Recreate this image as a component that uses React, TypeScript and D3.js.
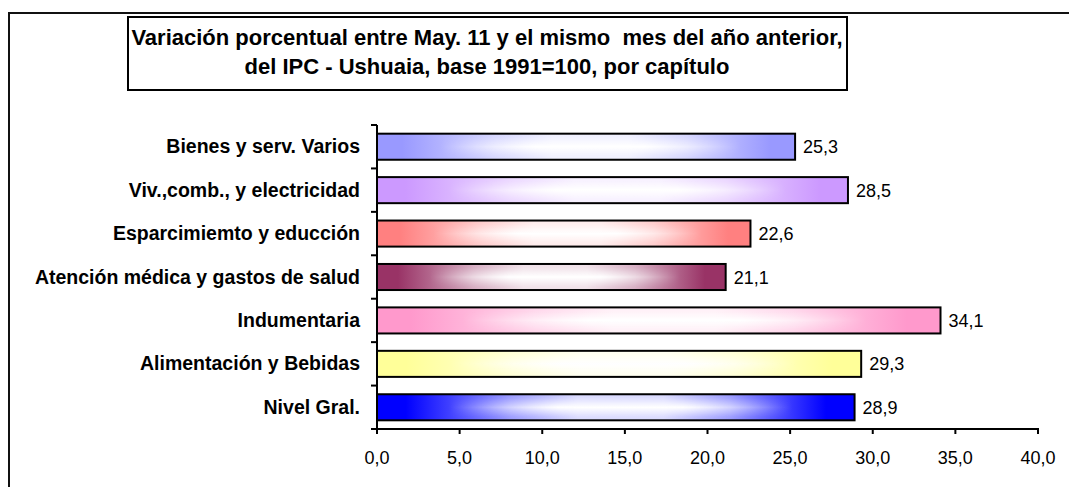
import React from "react";
import * as d3 from "d3";

const categories: string[] = [
  "Bienes y serv. Varios",
  "Viv.,comb., y electricidad",
  "Esparcimiemto y educción",
  "Atención médica y gastos de salud",
  "Indumentaria",
  "Alimentación y Bebidas",
  "Nivel Gral.",
];
const values: number[] = [25.3, 28.5, 22.6, 21.1, 34.1, 29.3, 28.9];
const barColors: string[] = ["#9999FF", "#CC99FF", "#FF8080", "#993366", "#FF99CC", "#FFFF99", "#0000FF"];
const xTicks: number[] = [0, 5, 10, 15, 20, 25, 30, 35, 40];
const titleLines: string[] = [
  "Variación porcentual entre May. 11 y el mismo  mes del año anterior,",
  "del IPC - Ushuaia, base 1991=100, por capítulo",
];

const W = 1069;
const H = 487;
const FONT = "'Liberation Sans', Arial, Helvetica, sans-serif";

const fmt = (v: number) => d3.format(".1f")(v).replace(".", ",");

export default function App() {
  const x = d3.scaleLinear().domain([0, 40]).range([377, 1038]);
  const y = d3
    .scaleBand<string>()
    .domain(categories)
    .range([125, 429])
    .paddingInner(0.4)
    .paddingOuter(0.2);
  const step = y.step();
  const bw = y.bandwidth();
  const [yTop, yBottom] = y.range();
  const x0 = x(0);

  const mix = (c: string, t: number) => d3.interpolateRgb(c, "#ffffff")(t);

  return (
    <div style={{ position: "absolute", left: 0, top: 0 }}>
      <svg width={W} height={H} style={{ display: "block", background: "#fff" }}>
        <defs>
          <linearGradient id="hmask" x1="0" y1="0" x2="1" y2="0">
            <stop offset="0" stopColor="#000" />
            <stop offset="0.15" stopColor="#000" />
            <stop offset="0.38" stopColor="#fff" />
            <stop offset="0.64" stopColor="#fff" />
            <stop offset="0.87" stopColor="#000" />
            <stop offset="1" stopColor="#000" />
          </linearGradient>
          <mask id="barMask" maskContentUnits="objectBoundingBox">
            <rect x={0} y={0} width={1} height={1} fill="url(#hmask)" />
          </mask>
          <linearGradient id="vhl" x1="0" y1="0" x2="0" y2="1">
            <stop offset="0" stopColor="#fff" stopOpacity={0} />
            <stop offset="0.15" stopColor="#fff" stopOpacity={0.15} />
            <stop offset="0.5" stopColor="#fff" stopOpacity={1} />
            <stop offset="0.85" stopColor="#fff" stopOpacity={0.15} />
            <stop offset="1" stopColor="#fff" stopOpacity={0} />
          </linearGradient>
          {barColors.map((c, i) => (
            <linearGradient key={i} id={`hg${i}`} x1="0" y1="0" x2="1" y2="0">
              <stop offset="0" stopColor={c} />
              <stop offset="0.06" stopColor={c} />
              <stop offset="0.28" stopColor={mix(c, 0.6)} />
              <stop offset="0.42" stopColor={mix(c, 0.85)} />
              <stop offset="0.6" stopColor={mix(c, 0.85)} />
              <stop offset="0.74" stopColor={mix(c, 0.6)} />
              <stop offset="0.94" stopColor={c} />
              <stop offset="1" stopColor={c} />
            </linearGradient>
          ))}
        </defs>

        {/* outer frame (clipped on right/bottom) */}
        <rect x={9} y={13} width={1100} height={520} fill="none" stroke="#111" strokeWidth={2} />

        {/* title box */}
        <rect x={128} y={17} width={719} height={73} fill="#fff" stroke="#000" strokeWidth={2} />
        {titleLines.map((t, i) => (
          <text
            key={i}
            x={487}
            y={45 + i * 29}
            textAnchor="middle"
            fontFamily={FONT}
            fontWeight="bold"
            fontSize={22}
            style={{ whiteSpace: "pre" }}
            fill="#000"
          >
            {t}
          </text>
        ))}

        {/* bars */}
        {categories.map((cat, i) => {
          const by = y(cat)!;
          const bx = x0;
          const w = x(values[i]) - x0;
          return (
            <g key={cat}>
              <rect x={bx} y={by} width={w} height={bw} fill={`url(#hg${i})`} />
              <g mask="url(#barMask)">
                <rect x={bx} y={by} width={w} height={bw} fill="url(#vhl)" />
              </g>
              <rect x={bx} y={by} width={w} height={bw} fill="none" stroke="#000" strokeWidth={2} />
              <text
                x={x(values[i]) + 8}
                y={by + bw / 2 + 6.5}
                fontFamily={FONT}
                fontSize={18}
                fill="#000"
              >
                {fmt(values[i])}
              </text>
              <text
                x={360}
                y={by + bw / 2 + 6.5}
                textAnchor="end"
                fontFamily={FONT}
                fontWeight="bold"
                fontSize={19.5}
                fill="#000"
              >
                {cat}
              </text>
            </g>
          );
        })}

        {/* y axis */}
        <line x1={x0} x2={x0} y1={yTop} y2={yBottom} stroke="#000" strokeWidth={2} />
        {d3.range(categories.length + 1).map((k) => (
          <line
            key={k}
            x1={x0 - 6}
            x2={x0}
            y1={yTop + k * step}
            y2={yTop + k * step}
            stroke="#000"
            strokeWidth={2}
          />
        ))}

        {/* x axis */}
        <line x1={x0 - 1} x2={x(40) + 1} y1={yBottom} y2={yBottom} stroke="#000" strokeWidth={2} />
        {xTicks.map((t) => (
          <g key={t}>
            <line x1={x(t)} x2={x(t)} y1={yBottom} y2={yBottom + 5} stroke="#000" strokeWidth={2} />
            <text
              x={x(t)}
              y={464}
              textAnchor="middle"
              fontFamily={FONT}
              fontSize={18}
              fill="#000"
            >
              {fmt(t)}
            </text>
          </g>
        ))}
      </svg>
    </div>
  );
}
